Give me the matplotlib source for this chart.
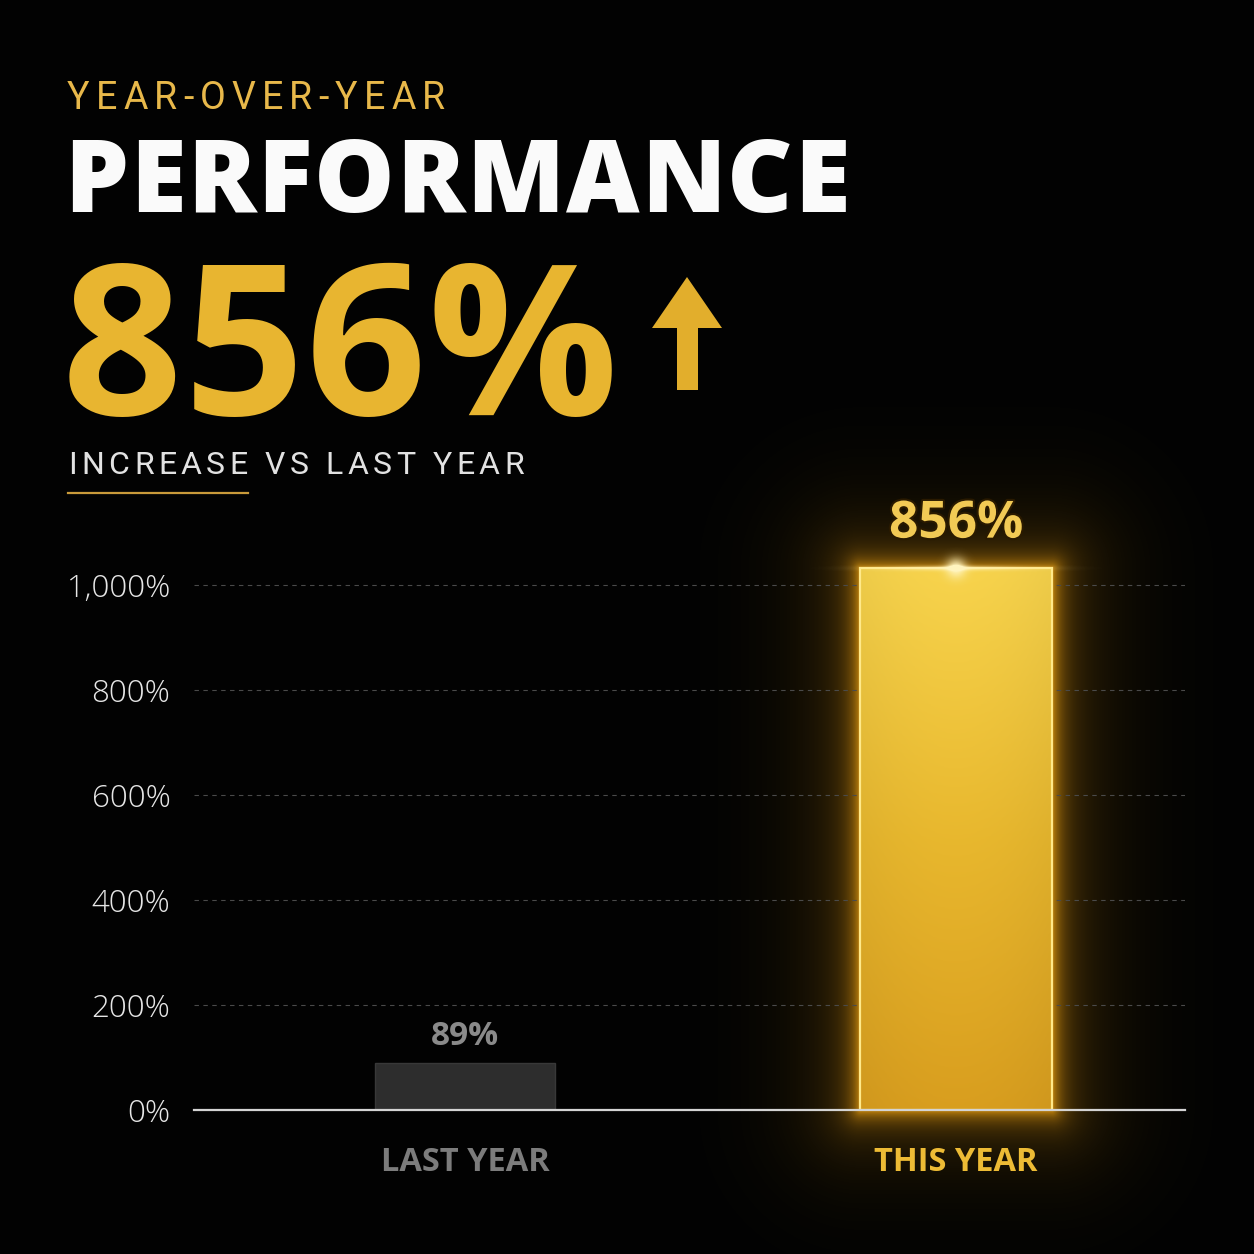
import numpy as np
import matplotlib
matplotlib.use('Agg')
import matplotlib.pyplot as plt
from matplotlib.patches import Polygon
from matplotlib.lines import Line2D
from matplotlib.font_manager import FontProperties, findfont, get_font
import matplotlib.patheffects as pe

# data
categories = ["LAST YEAR", "THIS YEAR"]
bar_heights = [89, 1032]          # heights as drawn in the picture
bar_labels = ["89%", "856%"]
tick_values = [0, 200, 400, 600, 800, 1000]
tick_labels = ["0%", "200%", "400%", "600%", "800%", "1,000%"]

kicker = "YEAR-OVER-YEAR"
title = "PERFORMANCE"
headline = "856%"
subtitle = "INCREASE VS LAST YEAR"

W = H = 1254
DPI = 100
BG = '#020202'
GOLD = '#E8B530'

fig = plt.figure(figsize=(W / DPI, H / DPI), dpi=DPI, facecolor=BG)


def fx(x):
    return x / W


def fy(y):
    return 1 - y / H


def spaced_text(x, y, s, width, family, weight, size, color, **kw):
    # letter-spaced text, stretched to a given pixel width
    prop = FontProperties(family=family, weight=weight, size=size)
    font = get_font(findfont(prop))
    font.set_size(size, DPI)
    adv = [font.load_char(ord(c)).linearHoriAdvance / 65536 for c in s]
    gap = (width - sum(adv)) / (len(s) - 1)
    for c, a in zip(s, adv):
        fig.text(fx(x), fy(y), c, fontproperties=prop, color=color,
                 ha='left', va='baseline', **kw)
        x += a + gap


# header
spaced_text(67, 109, kicker, 378, 'Roboto', 'normal', 27, '#E8B84A')
spaced_text(64, 212, title, 786, 'Open Sans', 'heavy', 73, '#FAFAFA')
spaced_text(62, 415, headline, 556, 'Open Sans', 'bold', 152, GOLD)
spaced_text(68, 474, subtitle, 456, 'Roboto', 'normal', 23, '#E2E2E2')
fig.add_artist(Line2D([fx(68), fx(248)], [fy(493), fy(493)],
                      transform=fig.transFigure, color='#C99A3A', lw=1.6))

arrow_px = [(687, 277), (652, 328), (677, 328), (677, 390),
            (698, 390), (698, 328), (722, 328)]
fig.add_artist(Polygon([(fx(x), fy(y)) for x, y in arrow_px], closed=True,
                       transform=fig.transFigure, facecolor='#E2AE2C',
                       edgecolor='none'))

# chart
ax = fig.add_axes([fx(194), fy(1110), (1185 - 194) / W, 551.25 / H])
ax.set_facecolor('none')
for s in ax.spines.values():
    s.set_visible(False)

x = np.arange(len(categories))
bars = ax.bar(x, bar_heights, width=[0.367, 0.39],
              color=['#2D2D2D', 'none'], edgecolor=['#383838', '#FFE98A'],
              linewidth=[1.0, 1.6], zorder=3)

# gold gradient inside the second bar
gb = bars[1]
t = np.linspace(0, 1, 200)[:, None]
u = np.linspace(-1, 1, 100)[None, :]
stops = np.array([[0.85, 0.62, 0.12], [0.91, 0.72, 0.18], [0.97, 0.83, 0.30]])
tt = t[..., None]
grad = np.where(tt < 0.5, stops[0] + (stops[1] - stops[0]) * tt / 0.5,
                stops[1] + (stops[2] - stops[1]) * (tt - 0.5) / 0.5)
grad = grad * (1 - 0.04 * u[..., None] ** 2)
grad = np.clip(np.broadcast_to(grad, (200, 100, 3)), 0, 1)
ax.imshow(grad, extent=[gb.get_x(), gb.get_x() + gb.get_width(), 0, gb.get_height()],
          origin='lower', aspect='auto', zorder=2)
ax.set_xlim(-0.552, 1.466)
ax.set_ylim(0, 1050)

for v in tick_values[1:]:
    ax.axhline(v, color='#4A4A4A', lw=0.8, ls=(0, (4, 4)), zorder=0)
ax.axhline(0, color='#D4D4D4', lw=1.6, clip_on=False, zorder=4)

ax.set_yticks(tick_values, tick_labels)
ax.tick_params(axis='y', length=0, pad=17, labelsize=22.5, labelcolor='#E6E6E6')
for lbl in ax.get_yticklabels():
    lbl.set_fontfamily('Open Sans')
    lbl.set_fontweight('light')

ax.set_xticks(x, categories)
ax.tick_params(axis='x', length=0, pad=26, labelsize=23.5)
for lbl, c in zip(ax.get_xticklabels(), ['#7C7C7C', '#EDBB35']):
    lbl.set_color(c)
    lbl.set_fontweight('bold')
    lbl.set_fontfamily('Open Sans')

ax.annotate(bar_labels[0], (x[0], bar_heights[0]), xytext=(0, 13),
            textcoords='offset points', ha='center', va='baseline',
            fontsize=24, fontweight='bold', color='#8A8A8A', family='Open Sans')
ax.annotate(bar_labels[1], (x[1], bar_heights[1]), xytext=(0, 22),
            textcoords='offset points', ha='center', va='baseline',
            fontsize=37, fontweight='bold', color='#F2CA55', family='Open Sans',
            path_effects=[pe.withStroke(linewidth=3, foreground='#2A1A00')])

# glow around the gold bar
bb = gb.get_window_extent()
yy, xx = np.mgrid[0:H, 0:W] + 0.5
dx = np.maximum(np.maximum(bb.x0 - xx, xx - bb.x1), 0)
dy = np.maximum(np.maximum(bb.y0 - yy, yy - bb.y1), 0)
d = np.hypot(dx, dy)
glow = np.zeros((H, W, 4))
glow[..., :3] = (1.0, 0.68, 0.06)
glow[..., 3] = np.clip(0.5 * np.exp(-d / 9) + 0.28 * np.exp(-d / 45), 0, 1)
fig.figimage(glow, xo=0, yo=0, origin='lower', zorder=-1)

cx = (bb.x0 + bb.x1) / 2
spot = np.zeros((H, W, 4))
spot[..., :3] = (1.0, 0.96, 0.75)
spot[..., 3] = np.clip(0.95 * np.exp(-((xx - cx) ** 2 + (yy - bb.y1) ** 2) / (2 * 7 ** 2))
                       + 0.6 * np.exp(-((xx - cx) / 70) ** 2 - ((yy - bb.y1) / 2.5) ** 2), 0, 1)
fig.figimage(spot, xo=0, yo=0, origin='lower', zorder=5)

fig.savefig('out.png', dpi=DPI, facecolor=BG)
